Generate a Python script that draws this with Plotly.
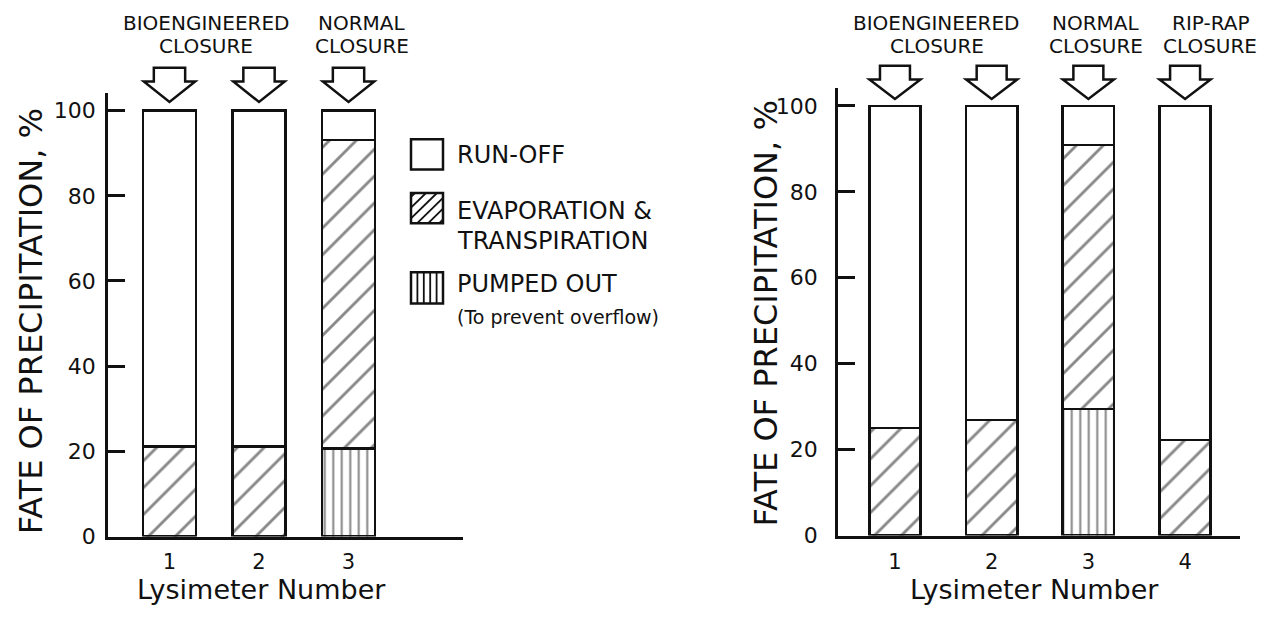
import plotly.graph_objects as go

# ---------------- data ----------------
lysimeters_left = [1, 2, 3]
pumped_left = [0, 0, 20.7]
evap_left = [21.1, 21.1, 72.4]
runoff_left = [78.9, 78.9, 6.9]

lysimeters_right = [1, 2, 3, 4]
pumped_right = [0, 0, 29.4, 0]
evap_right = [25.0, 26.9, 61.5, 22.3]
runoff_right = [75.0, 73.1, 9.1, 77.7]

y_ticks = [0, 20, 40, 60, 80, 100]
closure_left = ["BIOENGINEERED<br>CLOSURE", "NORMAL<br>CLOSURE"]
closure_right = ["BIOENGINEERED<br>CLOSURE", "NORMAL<br>CLOSURE", "RIP-RAP<br>CLOSURE"]
legend_labels = ["RUN-OFF", "EVAPORATION &<br>TRANSPIRATION", "PUMPED OUT<br>(To prevent overflow)"]
y_title = "FATE OF PRECIPITATION, %"
x_title = "Lysimeter Number"

# ---------------- styling / layout helpers ----------------
# the page body keeps its default 8px margin; the figure fits inside the window
OX, OY = 8, 8
W, H = 1254, 613
INK = "#111111"
BG = "#ffffff"
FONT = "DejaVu Sans"


def px(x):
    return (x - OX) / W


def py(y):
    return 1 - (y - OY) / H


fig = go.Figure()


def add_panel(xs, pumped, evap, runoff, xa, ya, width):
    common = dict(x=xs, width=width, xaxis=xa, yaxis=ya, showlegend=False, hoverinfo="skip")
    fig.add_trace(go.Bar(y=pumped, name="PUMPED OUT",
                         marker=dict(color=BG, line=dict(color=INK, width=2.5),
                                     pattern=dict(shape="|", size=8.5, solidity=0.24,
                                                  fgcolor=INK, bgcolor=BG)), **common))
    fig.add_trace(go.Bar(y=evap, name="EVAPORATION & TRANSPIRATION",
                         marker=dict(color=BG, line=dict(color=INK, width=2.5),
                                     pattern=dict(shape="/", size=19, solidity=0.15,
                                                  fgcolor=INK, bgcolor=BG)), **common))
    fig.add_trace(go.Bar(y=runoff, name="RUN-OFF",
                         marker=dict(color=BG, line=dict(color=INK, width=2.5)), **common))


add_panel(lysimeters_left, pumped_left, evap_left, runoff_left, "x", "y", 0.59)
add_panel(lysimeters_right, pumped_right, evap_right, runoff_right, "x2", "y2", 0.53)

yax = dict(range=[0, 104.1], tickmode="array", tickvals=y_ticks, ticks="inside", ticklen=17,
           tickwidth=2.5, tickcolor=INK, showline=True, linewidth=2.5, linecolor=INK,
           showgrid=False, zeroline=False, tickfont=dict(family=FONT, size=22, color=INK),
           fixedrange=True)
xax = dict(ticks="", showline=True, linewidth=2.5, linecolor=INK, showgrid=False,
           zeroline=False, tickfont=dict(family=FONT, size=21, color=INK), ticklabelstandoff=5)

fig.update_layout(
    width=W, height=H,
    margin=dict(l=0, r=0, t=0, b=0),
    paper_bgcolor=BG, plot_bgcolor=BG,
    barmode="stack", showlegend=False,
    font=dict(family=FONT, color=INK),
    xaxis=dict(xax, domain=[px(108), px(463)], range=[0.313, 4.279],
               tickmode="array", tickvals=lysimeters_left, anchor="y"),
    yaxis=dict(yax, domain=[py(548), py(95)], anchor="x", ticklabelstandoff=5),
    xaxis2=dict(xax, domain=[px(838), px(1240)], range=[0.411, 4.568],
                tickmode="array", tickvals=lysimeters_right, anchor="y2"),
    yaxis2=dict(yax, domain=[py(547), py(90)], anchor="x2", ticklabelstandoff=13),
)

shapes = []
annotations = []


def arrow(xc, xref, sh, hh, top, shoulder, tip):
    path = (f"M {xc - sh},{py(top)} L {xc + sh},{py(top)} L {xc + sh},{py(shoulder)} "
            f"L {xc + hh},{py(shoulder)} L {xc},{py(tip)} L {xc - hh},{py(shoulder)} "
            f"L {xc - sh},{py(shoulder)} Z")
    shapes.append(dict(type="path", path=path, xref=xref, yref="paper",
                       line=dict(color=INK, width=2.5), fillcolor="rgba(0,0,0,0)"))


for xv in lysimeters_left:
    arrow(xv, "x", 0.175, 0.287, 69, 83, 104)
for xv in lysimeters_right:
    arrow(xv, "x2", 0.155, 0.264, 67, 81, 101)


def header(text, xv, xref):
    for i, line in enumerate(text.split("<br>")):
        annotations.append(dict(text=line, x=xv, xref=xref, y=py(23 + 23.5 * i), yref="paper",
                                showarrow=False, xanchor="center", yanchor="middle",
                                font=dict(family=FONT, size=20, color=INK)))


for text, xv in zip(closure_left, [1.41, 3.15]):
    header(text, xv, "x")
for text, xv in zip(closure_right, [1.43, 3.08, 4.26]):
    header(text, xv, "x2")

# axis titles
for xc, yc in [(31, 328), (766, 320)]:
    annotations.append(dict(text=y_title, x=px(xc), y=py(yc), xref="paper", yref="paper",
                            textangle=-90, showarrow=False, xanchor="center", yanchor="middle",
                            font=dict(family=FONT, size=32, color=INK)))
for xc in [261, 1034]:
    annotations.append(dict(text=x_title, x=px(xc), y=py(602), xref="paper", yref="paper",
                            showarrow=False, xanchor="center", yanchor="middle",
                            font=dict(family=FONT, size=27, color=INK)))

# legend (drawn manually)
boxes = [(411, 142, 443, 173), (411, 197, 443, 228), (411, 278, 443, 310)]
for (x0, y0, x1, y1) in boxes:
    shapes.append(dict(type="rect", xref="paper", yref="paper", x0=px(x0), x1=px(x1),
                       y0=py(y1), y1=py(y0), line=dict(color=INK, width=2.5),
                       fillcolor="rgba(0,0,0,0)"))
# diagonal hatch in box 2
x0, y0, x1, y1 = boxes[1]
w, h = x1 - x0, y1 - y0
d = 11
c = -h + 4
while c < w:
    u0, u1 = max(0, c), min(w, h + c)
    if u1 > u0:
        shapes.append(dict(type="line", xref="paper", yref="paper",
                           x0=px(x0 + u0), y0=py(y1 - (u0 - c)),
                           x1=px(x0 + u1), y1=py(y1 - (u1 - c)),
                           line=dict(color=INK, width=1.8)))
    c += d
# vertical hatch in box 3
x0, y0, x1, y1 = boxes[2]
for k in range(1, 5):
    xx = x0 + k * (x1 - x0) / 5
    shapes.append(dict(type="line", xref="paper", yref="paper", x0=px(xx), x1=px(xx),
                       y0=py(y1), y1=py(y0), line=dict(color=INK, width=1.8)))

legend_lines = [
    (legend_labels[0].split("<br>")[0], 158.5, 24),
    (legend_labels[1].split("<br>")[0], 215, 24),
    (legend_labels[1].split("<br>")[1], 246, 24),
    (legend_labels[2].split("<br>")[0], 290, 24),
    (legend_labels[2].split("<br>")[1], 324, 19),
]
for text, yc, size in legend_lines:
    annotations.append(dict(text=text, x=px(455), y=py(yc), xref="paper", yref="paper",
                            showarrow=False, xanchor="left", yanchor="middle",
                            font=dict(family=FONT, size=size, color=INK)))

fig.update_layout(shapes=shapes, annotations=annotations)
fig.write_html("out.html")
